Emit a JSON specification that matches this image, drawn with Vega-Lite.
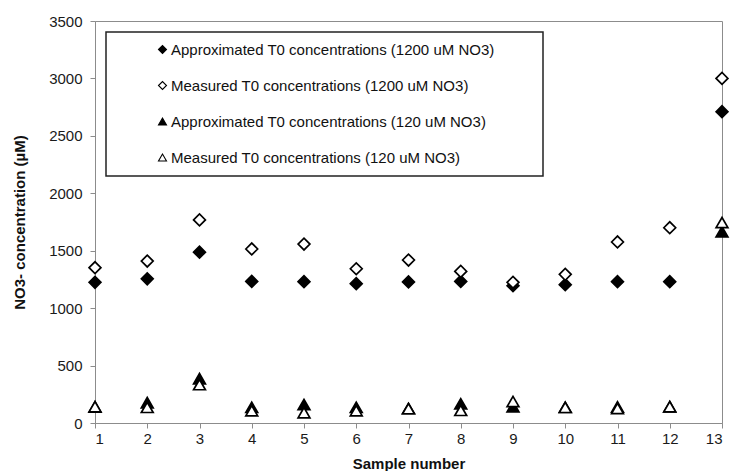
{
  "$schema": "https://vega.github.io/schema/vega-lite/v6.json",
  "width": 627,
  "height": 402,
  "autosize": "none",
  "padding": {"left": 95, "top": 21, "right": 10, "bottom": 48},
  "background": "white",
  "data": {
    "values": [
      {"sample": 1, "series": "Approximated T0 concentrations (1200 uM NO3)", "value": 1225},
      {"sample": 2, "series": "Approximated T0 concentrations (1200 uM NO3)", "value": 1255},
      {"sample": 3, "series": "Approximated T0 concentrations (1200 uM NO3)", "value": 1487},
      {"sample": 4, "series": "Approximated T0 concentrations (1200 uM NO3)", "value": 1233},
      {"sample": 5, "series": "Approximated T0 concentrations (1200 uM NO3)", "value": 1230},
      {"sample": 6, "series": "Approximated T0 concentrations (1200 uM NO3)", "value": 1213},
      {"sample": 7, "series": "Approximated T0 concentrations (1200 uM NO3)", "value": 1228},
      {"sample": 8, "series": "Approximated T0 concentrations (1200 uM NO3)", "value": 1233},
      {"sample": 9, "series": "Approximated T0 concentrations (1200 uM NO3)", "value": 1195},
      {"sample": 10, "series": "Approximated T0 concentrations (1200 uM NO3)", "value": 1204},
      {"sample": 11, "series": "Approximated T0 concentrations (1200 uM NO3)", "value": 1230},
      {"sample": 12, "series": "Approximated T0 concentrations (1200 uM NO3)", "value": 1230},
      {"sample": 13, "series": "Approximated T0 concentrations (1200 uM NO3)", "value": 2710},
      {"sample": 1, "series": "Measured T0 concentrations (1200 uM NO3)", "value": 1352},
      {"sample": 2, "series": "Measured T0 concentrations (1200 uM NO3)", "value": 1410},
      {"sample": 3, "series": "Measured T0 concentrations (1200 uM NO3)", "value": 1768},
      {"sample": 4, "series": "Measured T0 concentrations (1200 uM NO3)", "value": 1515},
      {"sample": 5, "series": "Measured T0 concentrations (1200 uM NO3)", "value": 1558},
      {"sample": 6, "series": "Measured T0 concentrations (1200 uM NO3)", "value": 1343},
      {"sample": 7, "series": "Measured T0 concentrations (1200 uM NO3)", "value": 1419},
      {"sample": 8, "series": "Measured T0 concentrations (1200 uM NO3)", "value": 1320},
      {"sample": 9, "series": "Measured T0 concentrations (1200 uM NO3)", "value": 1225},
      {"sample": 10, "series": "Measured T0 concentrations (1200 uM NO3)", "value": 1294},
      {"sample": 11, "series": "Measured T0 concentrations (1200 uM NO3)", "value": 1576},
      {"sample": 12, "series": "Measured T0 concentrations (1200 uM NO3)", "value": 1700},
      {"sample": 13, "series": "Measured T0 concentrations (1200 uM NO3)", "value": 3000},
      {"sample": 1, "series": "Approximated T0 concentrations (120 uM NO3)", "value": 140},
      {"sample": 2, "series": "Approximated T0 concentrations (120 uM NO3)", "value": 177},
      {"sample": 3, "series": "Approximated T0 concentrations (120 uM NO3)", "value": 386},
      {"sample": 4, "series": "Approximated T0 concentrations (120 uM NO3)", "value": 136},
      {"sample": 5, "series": "Approximated T0 concentrations (120 uM NO3)", "value": 160},
      {"sample": 6, "series": "Approximated T0 concentrations (120 uM NO3)", "value": 136},
      {"sample": 7, "series": "Approximated T0 concentrations (120 uM NO3)", "value": 125},
      {"sample": 8, "series": "Approximated T0 concentrations (120 uM NO3)", "value": 168},
      {"sample": 9, "series": "Approximated T0 concentrations (120 uM NO3)", "value": 142},
      {"sample": 10, "series": "Approximated T0 concentrations (120 uM NO3)", "value": 136},
      {"sample": 11, "series": "Approximated T0 concentrations (120 uM NO3)", "value": 140},
      {"sample": 12, "series": "Approximated T0 concentrations (120 uM NO3)", "value": 142},
      {"sample": 13, "series": "Approximated T0 concentrations (120 uM NO3)", "value": 1665},
      {"sample": 1, "series": "Measured T0 concentrations (120 uM NO3)", "value": 142},
      {"sample": 2, "series": "Measured T0 concentrations (120 uM NO3)", "value": 136},
      {"sample": 3, "series": "Measured T0 concentrations (120 uM NO3)", "value": 334},
      {"sample": 4, "series": "Measured T0 concentrations (120 uM NO3)", "value": 107},
      {"sample": 5, "series": "Measured T0 concentrations (120 uM NO3)", "value": 90},
      {"sample": 6, "series": "Measured T0 concentrations (120 uM NO3)", "value": 107},
      {"sample": 7, "series": "Measured T0 concentrations (120 uM NO3)", "value": 125},
      {"sample": 8, "series": "Measured T0 concentrations (120 uM NO3)", "value": 110},
      {"sample": 9, "series": "Measured T0 concentrations (120 uM NO3)", "value": 187},
      {"sample": 10, "series": "Measured T0 concentrations (120 uM NO3)", "value": 136},
      {"sample": 11, "series": "Measured T0 concentrations (120 uM NO3)", "value": 127},
      {"sample": 12, "series": "Measured T0 concentrations (120 uM NO3)", "value": 142},
      {"sample": 13, "series": "Measured T0 concentrations (120 uM NO3)", "value": 1745}
    ]
  },
  "mark": {"type": "point", "filled": true, "strokeWidth": 1.7, "size": 140, "opacity": 1},
  "encoding": {
    "x": {
      "field": "sample",
      "type": "quantitative",
      "title": "Sample number",
      "scale": {"domain": [1, 13], "nice": false, "zero": false},
      "axis": {
        "values": [1, 2, 3, 4, 5, 6, 7, 8, 9, 10, 11, 12, 13],
        "format": "d",
        "labelPadding": 3,
        "titleX": 313.5,
        "titleY": 40,
        "titleBaseline": "middle"
      }
    },
    "y": {
      "field": "value",
      "type": "quantitative",
      "title": "NO3- concentration (µM)",
      "scale": {"domain": [0, 3500], "nice": false},
      "axis": {
        "values": [0, 500, 1000, 1500, 2000, 2500, 3000, 3500],
        "format": "d",
        "labelPadding": 8,
        "titleX": -76,
        "titleY": 201,
        "titleAngle": 270,
        "titleAlign": "center",
        "titleBaseline": "middle"
      }
    },
    "shape": {
      "field": "series",
      "type": "nominal",
      "scale": {
        "domain": [
          "Approximated T0 concentrations (1200 uM NO3)",
          "Measured T0 concentrations (1200 uM NO3)",
          "Approximated T0 concentrations (120 uM NO3)",
          "Measured T0 concentrations (120 uM NO3)"
        ],
        "range": ["diamond", "diamond", "triangle-up", "triangle-up"]
      },
      "legend": {"title": " "}
    },
    "fill": {
      "field": "series",
      "type": "nominal",
      "scale": {
        "domain": [
          "Approximated T0 concentrations (1200 uM NO3)",
          "Measured T0 concentrations (1200 uM NO3)",
          "Approximated T0 concentrations (120 uM NO3)",
          "Measured T0 concentrations (120 uM NO3)"
        ],
        "range": ["black", "white", "black", "white"]
      },
      "legend": {"title": " "}
    },
    "stroke": {
      "field": "series",
      "type": "nominal",
      "scale": {
        "domain": [
          "Approximated T0 concentrations (1200 uM NO3)",
          "Measured T0 concentrations (1200 uM NO3)",
          "Approximated T0 concentrations (120 uM NO3)",
          "Measured T0 concentrations (120 uM NO3)"
        ],
        "range": ["black", "black", "black", "black"]
      },
      "legend": {"title": " "}
    }
  },
  "config": {
    "font": "Liberation Sans",
    "view": {"stroke": "#8c8c8c", "strokeWidth": 1},
    "axis": {
      "grid": false,
      "domainColor": "#8c8c8c",
      "domainWidth": 1,
      "tickColor": "#8c8c8c",
      "tickSize": 5,
      "labelFont": "Liberation Sans",
      "labelFontSize": 15,
      "labelColor": "#1a1a1a",
      "titleFont": "Liberation Sans",
      "titleFontSize": 15,
      "titleFontWeight": "bold",
      "titleColor": "#111111"
    },
    "legend": {
      "orient": "none",
      "legendX": 11,
      "legendY": 11,
      "direction": "vertical",
      "padding": 10,
      "rowPadding": 20,
      "symbolOffset": 39,
      "symbolSize": 64,
      "symbolStrokeWidth": 1.1,
      "labelOffset": 1,
      "labelFont": "Liberation Sans",
      "labelFontSize": 15,
      "labelColor": "#111111",
      "labelLimit": 0,
      "titleOrient": "right",
      "titlePadding": 39,
      "titleFontSize": 4,
      "strokeColor": "#222222",
      "strokeWidth": 1.5,
      "fillColor": "white"
    }
  }
}
